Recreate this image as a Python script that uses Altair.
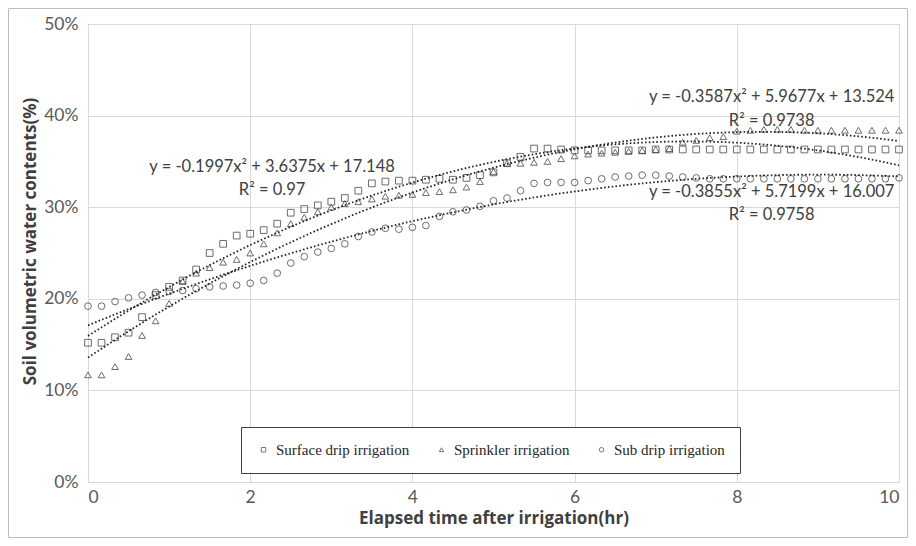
import altair as alt
import pandas as pd

# ---- data ----
minutes = list(range(0, 601, 10))  # sampling every 10 minutes, 0..10 h

surface = [15.2, 15.2, 15.8, 16.3, 18.0, 20.4, 21.3, 22.0, 23.2, 25.0,
           26.0, 26.9, 27.1, 27.5, 28.2, 29.4, 29.8, 30.2, 30.6, 31.0,
           31.8, 32.6, 32.8, 32.9, 32.9, 33.0, 33.1, 33.0, 33.2, 33.5,
           33.8, 34.8, 35.5, 36.4, 36.4, 36.3, 36.2, 36.2, 36.2, 36.2,
           36.2, 36.2, 36.3, 36.3, 36.3, 36.3, 36.3, 36.3, 36.3, 36.3,
           36.3, 36.3, 36.3, 36.3, 36.3, 36.3, 36.3, 36.3, 36.3, 36.3, 36.3]

sprinkler = [11.7, 11.7, 12.6, 13.7, 16.0, 17.6, 19.5, 21.9, 22.8, 23.4,
             24.0, 24.3, 25.0, 26.0, 27.2, 28.2, 28.9, 29.5, 30.0, 30.4,
             30.6, 30.9, 31.2, 31.3, 31.4, 31.6, 31.7, 31.9, 32.2, 32.8,
             33.9, 34.8, 34.8, 34.9, 35.0, 35.3, 35.6, 35.8, 35.9, 36.0,
             36.1, 36.2, 36.3, 36.4, 37.1, 37.3, 37.6, 37.7, 38.3, 38.4,
             38.5, 38.5, 38.5, 38.4, 38.4, 38.4, 38.4, 38.4, 38.4, 38.4, 38.4]

subdrip = [19.2, 19.2, 19.7, 20.1, 20.4, 20.7, 20.8, 20.9, 21.1, 21.3,
           21.4, 21.5, 21.7, 22.0, 22.8, 23.9, 24.6, 25.1, 25.5, 26.0,
           26.8, 27.3, 27.7, 27.6, 27.8, 28.0, 29.0, 29.5, 29.7, 30.1,
           30.7, 31.0, 31.8, 32.6, 32.7, 32.7, 32.7, 32.9, 33.1, 33.3,
           33.4, 33.5, 33.5, 33.4, 33.3, 33.2, 33.1, 33.1, 33.1, 33.1,
           33.1, 33.1, 33.1, 33.1, 33.1, 33.1, 33.1, 33.1, 33.1, 33.1, 33.2]

series_names = ["Surface drip irrigation", "Sprinkler irrigation", "Sub drip irrigation"]
x_ticks = [0, 2, 4, 6, 8, 10]
y_ticks = [0, 10, 20, 30, 40, 50]

eq_text = ["y = -0.1997x\u00b2 + 3.6375x + 17.148", "R\u00b2 = 0.97",
           "y = -0.3587x\u00b2 + 5.9677x + 13.524", "R\u00b2 = 0.9738",
           "y = -0.3855x\u00b2 + 5.7199x + 16.007", "R\u00b2 = 0.9758"]
eq_x = [2.27, 2.27, 8.43, 8.43, 8.43, 8.43]
eq_y = [34.4, 31.9, 42.0, 39.4, 31.7, 29.2]

rows = []
for name, vals in zip(series_names, [surface, sprinkler, subdrip]):
    for m, v in zip(minutes, vals):
        rows.append({"series": name, "minutes": m, "v": v})
df = pd.DataFrame(rows)
ann = pd.DataFrame({"text": eq_text, "x": eq_x, "y": eq_y})

W, H = 811, 458
PL, PT, PR, PB = 80, 16, 9, 56
INK = "#404040"

xscale = alt.Scale(domain=[0, 10], nice=False)
yscale = alt.Scale(domain=[0, 50], nice=False)

base = alt.Chart(df).transform_calculate(t="datum.minutes / 60")

xaxis = alt.Axis(values=x_ticks, format="d", title="Elapsed time after irrigation(hr)")
yaxis = alt.Axis(values=y_ticks, labelExpr="datum.value + '%'", titleY=217,
                 title="Soil volumetric water contents(%)")

points = base.mark_point(filled=False, size=45, strokeWidth=1, color="#303030").encode(
    x=alt.X("t:Q", scale=xscale, axis=xaxis),
    y=alt.Y("v:Q", scale=yscale, axis=yaxis),
    shape=alt.Shape("series:N",
                    scale=alt.Scale(domain=series_names,
                                    range=["square", "triangle-up", "circle"]),
                    legend=alt.Legend(orient="none", legendX=153, legendY=403,
                                      direction="horizontal", title=None,
                                      strokeColor=INK, fillColor="white",
                                      padding=15, symbolSize=20,
                                      symbolStrokeWidth=1, symbolStrokeColor=INK,
                                      labelFont="Liberation Serif", labelFontSize=15,
                                      labelColor="#262626", columnPadding=24,
                                      labelOffset=5)),
)

trend = base.transform_regression(
    "t", "v", groupby=["series"], method="poly", order=2, extent=[0, 10]
).mark_line(color="#262626", strokeWidth=1.8, strokeDash=[1.6, 2.2], strokeCap="butt").encode(
    x=alt.X("t:Q", scale=xscale),
    y=alt.Y("v:Q", scale=yscale),
    detail="series:N",
)

labels = alt.Chart(ann).mark_text(font="Lato", fontSize=16.5, color=INK).encode(
    x=alt.X("x:Q", scale=xscale),
    y=alt.Y("y:Q", scale=yscale),
    text="text:N",
)

frame = alt.Chart(alt.Data(values=[{}])).mark_rect(
    fillOpacity=0, stroke="#bfbfbf", strokeWidth=1
).encode(
    x=alt.value(-PL + 0.5), x2=alt.value(W + PR - 0.5),
    y=alt.value(-PT + 0.5), y2=alt.value(H + PB - 0.5),
)

chart = alt.layer(frame, points, trend, labels).properties(
    width=W, height=H,
    autosize=alt.AutoSizeParams(type="none"),
    padding={"left": PL, "top": PT, "right": PR, "bottom": PB},
).configure_view(
    stroke="#a6a6a6", strokeWidth=1
).configure_axis(
    grid=True, gridColor="#d9d9d9", gridWidth=1, ticks=False, domain=False,
    labelFont="Lato", labelFontSize=17.5, labelColor="#595959",
    titleFont="Open Sans", titleFontSize=17, titleFontWeight="bold", titleColor=INK,
).configure_axisX(
    labelPadding=6, titlePadding=5
).configure_axisY(
    labelPadding=10, titlePadding=4
)

chart.save("out.html", embed_options={"renderer": "svg", "actions": False})
